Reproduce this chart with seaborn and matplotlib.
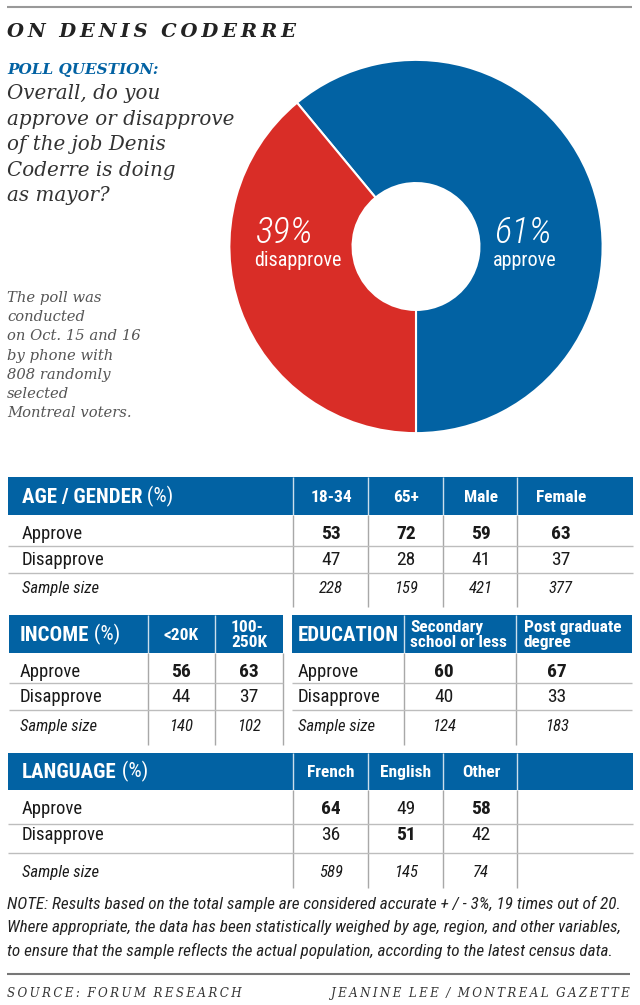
import matplotlib
matplotlib.use("Agg")
import matplotlib.pyplot as plt
from matplotlib import font_manager
from matplotlib.patches import Rectangle
import seaborn as sns

sns.set_theme(style="white")

# ---- data ----
pie_labels = ["approve", "disapprove"]
pie_values = [61, 39]

age_cols = ["18-34", "65+", "Male", "Female"]
age_approve = [53, 72, 59, 63]
age_disapprove = [47, 28, 41, 37]
age_sample = [228, 159, 421, 377]

income_cols = ["<20K", "100-\n250K"]
income_approve = [56, 63]
income_disapprove = [44, 37]
income_sample = [140, 102]

edu_cols = ["Secondary\nschool or less", "Post graduate\ndegree"]
edu_approve = [60, 67]
edu_disapprove = [40, 33]
edu_sample = [124, 183]

lang_cols = ["French", "English", "Other", ""]
lang_approve = [64, 49, 58]
lang_disapprove = [36, 51, 42]
lang_sample = [589, 145, 74]

row_labels = ["Approve", "Disapprove", "Sample size"]

question = ["Overall, do you", "approve or disapprove", "of the job Denis",
            "Coderre is doing", "as mayor?"]
method = ["The poll was", "conducted", "on Oct. 15 and 16", "by phone with",
          "808 randomly", "selected", "Montreal voters."]
note = ["NOTE: Results based on the total sample are considered accurate + / - 3%, 19 times out of 20.",
        "Where appropriate, the data has been statistically weighed by age, region, and other variables,",
        "to ensure that the sample reflects the actual population, according to the latest census data."]

# ---- fonts / colours ----
installed = {f.name for f in font_manager.fontManager.ttflist}
COND = next((f for f in ["Liberation Sans Narrow", "Roboto Condensed", "Roboto"]
             if f in installed), "DejaVu Sans")
SERIF = "DejaVu Serif"
plt.rcParams['font.family'] = [COND, 'DejaVu Sans']

BLUE = "#0262a3"
RED = "#d92d27"
GRID = "#a8a8a8"
INK = "#1a1a1a"


def spaced(s):
    return "\u2009".join(s).replace("\u2009 \u2009", "  ")


fig = plt.figure(figsize=(6.4, 10.05), dpi=100)

# donut
pax = fig.add_axes([229 / 640, (1005 - 433.5) / 1005, 374 / 640, 374 / 1005])
pax.pie(pie_values, colors=[BLUE, RED], startangle=-90, counterclock=True,
        wedgeprops=dict(width=0.66, edgecolor="white", linewidth=1.5))
pax.set_xlim(-1.002, 1.002)
pax.set_ylim(-1.002, 1.002)
pax.set_aspect("equal")
pax.axis("off")

# overlay in pixel units
ax = fig.add_axes([0, 0, 1, 1], facecolor="none")
ax.set_xlim(0, 640)
ax.set_ylim(1005, 0)
ax.axis("off")

ax.hlines(7, 7, 632, color="#999999", lw=1.5)
ax.text(7, 37, spaced("ON DENIS CODERRE"), family=SERIF, style="italic",
        weight="bold", fontsize=14, color="#222222", va="baseline")
ax.text(7, 74, "POLL QUESTION:", family=SERIF, style="italic", weight="bold",
        fontsize=11, color=BLUE, va="baseline")
for i, line in enumerate(question):
    ax.text(7, 99 + 25.5 * i, line, family=SERIF, style="italic", fontsize=14.3,
            color="#333333", va="baseline")
for i, line in enumerate(method):
    ax.text(7, 302 + 19.2 * i, line, family=SERIF, style="italic", fontsize=10.6,
            color="#555555", va="baseline")

# donut labels
for (x, val, lab) in [(494, pie_values[0], pie_labels[0]), (255, pie_values[1], pie_labels[1])]:
    ax.text(x, 243, f"{val}%", style="italic", weight="light",
            fontsize=26.5, color="white", va="baseline")
    ax.text(x - 1, 266, lab, fontsize=14.5, color="white", va="baseline")


def draw_table(x0, x1, edges, top, hdr_h, title, unit, cols, hdr_x, hdr_ha,
               val_x, approve, disapprove, sample, rows_y, lines_y, body_end,
               pad=14, right_line=False):
    ax.add_patch(Rectangle((x0, top), x1 - x0, hdr_h, color=BLUE, lw=0))
    ax.vlines(edges, top, top + hdr_h, color="white", lw=1, alpha=0.8)
    vl = list(edges) + ([x1] if right_line else [])
    ax.vlines(vl, top + hdr_h, body_end, color=GRID, lw=1)
    ax.hlines(lines_y, x0, x1, color="#bdbdbd", lw=1)
    t = ax.text(x0 + pad, top + hdr_h / 2 + 1, title, weight="bold", fontsize=15,
                color="white", va="center")
    if unit:
        ax.annotate(" " + unit, xy=(1, 0), xycoords=t, va="bottom", fontsize=15,
                    color="white")
    for c, x in zip(cols, hdr_x):
        ax.text(x, top + hdr_h / 2 + 1, c, weight="bold", fontsize=12.5, color="white",
                ha=hdr_ha, va="center", linespacing=0.95, multialignment="left")
    for lab, y in zip(row_labels, rows_y):
        ax.text(x0 + pad, y, lab, fontsize=13.5 if lab != "Sample size" else 12,
                style="italic" if lab == "Sample size" else "normal",
                color=INK, va="center")
    for a, d, s, x in zip(approve, disapprove, sample, val_x):
        ax.text(x, rows_y[0], str(a), fontsize=14, weight="bold" if a > d else "normal",
                ha="center", va="center", color=INK)
        ax.text(x, rows_y[1], str(d), fontsize=14, weight="bold" if d > a else "normal",
                ha="center", va="center", color=INK)
        ax.text(x, rows_y[2], str(s), fontsize=12, style="italic",
                ha="center", va="center", color=INK)


age_x = [331, 406, 481, 561]
draw_table(8, 633, [293, 368, 443, 517], 477, 38, "AGE / GENDER", "(%)",
           age_cols, age_x, "center", age_x, age_approve, age_disapprove, age_sample,
           [534, 560, 588], [546, 573], 607)
inc_x = [181, 249]
draw_table(9, 283, [148, 215], 615, 38, "INCOME", "(%)", income_cols, inc_x, "center",
           inc_x, income_approve, income_disapprove, income_sample,
           [672, 697, 726], [683, 710], 745, pad=11, right_line=True)
draw_table(292, 632, [404, 516], 615, 38, "EDUCATION", "", edu_cols, [410, 524], "left",
           [444, 557], edu_approve, edu_disapprove, edu_sample,
           [672, 697, 726], [683, 710], 745, pad=6)
lang_x = [331, 406, 481, 575]
draw_table(8, 633, [293, 368, 443, 517], 753, 37, "LANGUAGE", "(%)", lang_cols, lang_x,
           "center", lang_x[:3], lang_approve, lang_disapprove, lang_sample,
           [809, 835, 872], [824, 853], 888)

for i, line in enumerate(note):
    ax.text(7, 909 + 23.3 * i, line, style="italic", fontsize=12.3, color="#222222",
            va="baseline")

ax.hlines(974, 7, 630, color="#777777", lw=1.5)
ax.text(7, 997, spaced("SOURCE: FORUM RESEARCH"), family=SERIF, style="italic",
        fontsize=8.6, color="#333333", va="baseline")
ax.text(630, 997, spaced("JEANINE LEE / MONTREAL GAZETTE"), family=SERIF, style="italic",
        fontsize=8.6, color="#333333", va="baseline", ha="right")

fig.savefig("out.png", dpi=100, facecolor="white")
